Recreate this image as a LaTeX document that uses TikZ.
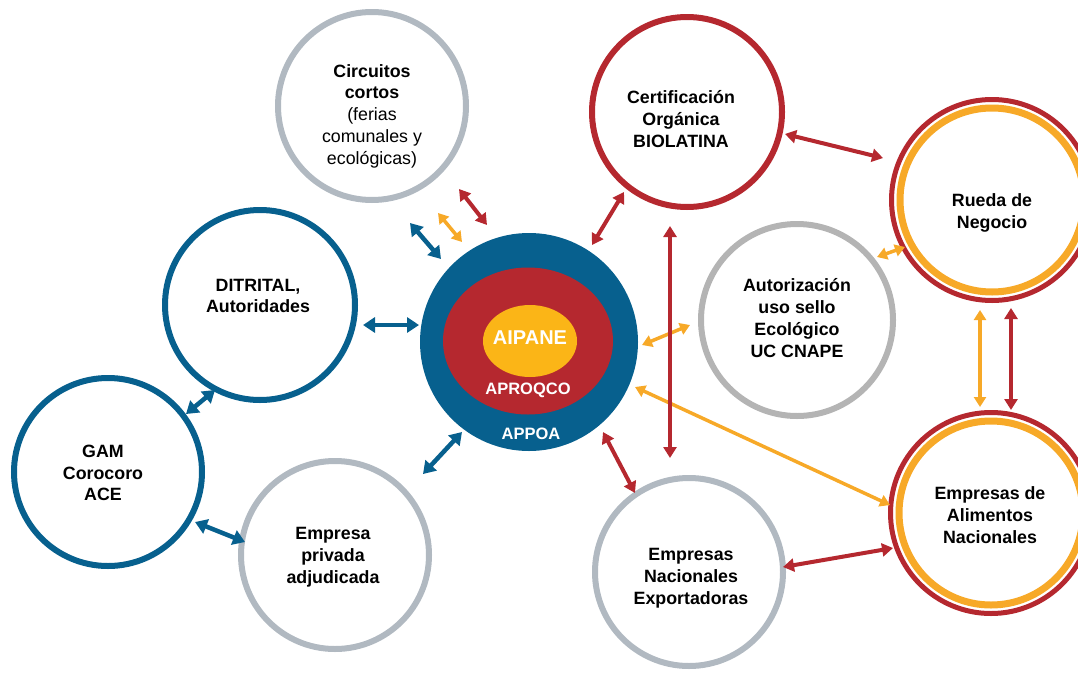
\documentclass[tikz,border=0pt]{standalone}
\usepackage{fontspec}
\setmainfont{Liberation Sans}
\usetikzlibrary{arrows.meta,calc,shapes.geometric}
\definecolor{cblue}{HTML}{07608E}
\definecolor{cred}{HTML}{B5282F}
\definecolor{corange}{HTML}{F7A928}
\definecolor{cyellow}{HTML}{FBB517}
\definecolor{cgray}{HTML}{B1B9C1}
\definecolor{cgraytwo}{HTML}{B4B4B4}
\begin{document}
\begin{tikzpicture}[x=1pt,y=-1pt,
  ring/.style={circle,draw,line width=6pt,inner sep=0pt,minimum size=#1},
  lbl/.style={align=center,font=\fontsize{17.8}{21.8}\selectfont\bfseries,text=black},
  inl/.style={text=white,font=\bfseries},
  barr/.style={draw=cblue,line width=4.5pt,{Triangle[length=12pt,width=15pt]}-{Triangle[length=12pt,width=15pt]}},
  rarr/.style={draw=cred,line width=4pt,{Triangle[length=11pt,width=13pt]}-{Triangle[length=11pt,width=13pt]}},
  oarr/.style={draw=corange,line width=3.5pt,{Triangle[length=10pt,width=12pt]}-{Triangle[length=10pt,width=12pt]}}]
\useasboundingbox (0,0) rectangle (1078,672);

% central target
\node[circle,fill=cblue,inner sep=0pt,minimum size=218pt] (center) at (529,342) {};
\node[ellipse,fill=cred,inner sep=0pt,minimum width=170pt,minimum height=147pt] (aproq) at (528,341) {};
\node[ellipse,fill=cyellow,inner sep=0pt,minimum width=94pt,minimum height=72pt] (aipane) at (530,341) {};
\node[inl,font=\fontsize{20}{24}\selectfont\bfseries] (t-aipane) at (530,338) {AIPANE};
\node[inl,font=\fontsize{16.5}{20}\selectfont\bfseries] (t-aproq) at (528,390) {APROQCO};
\node[inl,font=\fontsize{16.5}{20}\selectfont\bfseries] (t-appoa) at (531,434) {APPOA};

% circles
\node[ring=188pt,draw=cgray] (circ) at (372,106) {};
\node[ring=190pt,draw=cred] (cert) at (687,112) {};
\node[ring=201pt,draw=cred,line width=5pt] (rueda) at (992,200) {};
\draw[corange,line width=7pt] (rueda) circle[radius=92];
\node[ring=192pt,draw=cgraytwo] (auto) at (797,320) {};
\node[ring=201pt,draw=cred,line width=5pt] (alim) at (991,513) {};
\draw[corange,line width=7pt] (alim) circle[radius=92];
\node[ring=188pt,draw=cgray] (expo) at (689,572) {};
\node[ring=188pt,draw=cgray] (priv) at (335,555) {};
\node[ring=188pt,draw=cblue] (gam) at (108,472) {};
\node[ring=190pt,draw=cblue] (dit) at (260,305) {};

% labels
\node[lbl] (t-circ) at (372,116) {Circuitos\\cortos\\{\mdseries(ferias}\\{\mdseries comunales y}\\{\mdseries ecológicas)}};
\node[lbl] (t-cert) at (681,119) {Certificación\\Orgánica\\BIOLATINA};
\node[lbl] (t-rueda) at (992,213) {Rueda de\\Negocio};
\node[lbl] (t-auto) at (797,318) {Autorización\\uso sello\\Ecológico\\UC CNAPE};
\node[lbl] (t-alim) at (990,515) {Empresas de\\Alimentos\\Nacionales};
\node[lbl] (t-expo) at (691,578) {Empresas\\Nacionales\\Exportadoras};
\node[lbl] (t-priv) at (333,557) {Empresa\\privada\\adjudicada};
\node[lbl] (t-gam) at (103,473) {GAM\\Corocoro\\ACE};
\node[lbl] (t-dit) at (258,296) {DITRITAL,\\Autoridades};

% blue connectors
\draw[barr] ($(circ)+(38,117)$) -- ($(center)+(-88,-83)$);
\draw[barr] ($(dit)+(103,20)$) -- ($(center)+(-110,-17)$);
\draw[barr] ($(gam)+(78,-58)$) -- ($(dit)+(-45,85)$);
\draw[barr] ($(gam)+(87,50)$) -- ($(priv)+(-90,-13)$);
\draw[barr] ($(priv)+(88,-81)$) -- ($(center)+(-67,90)$);

% orange connectors
\draw[oarr] ($(circ)+(66,107)$) -- ($(center)+(-67,-100)$);
\draw[oarr] ($(center)+(113,3)$) -- ($(auto)+(-107,5)$);
\draw[oarr] ($(auto)+(80,-63)$) -- ($(rueda)+(-87,47)$);
\draw[oarr] ($(center)+(106,45)$) -- ($(alim)+(-101,-8)$);
\draw[oarr] ($(rueda)+(-12,110)$) -- ($(alim)+(-11,-106)$);

% red connectors
\draw[rarr] ($(circ)+(87,83)$) -- ($(center)+(-42,-117)$);
\draw[rarr] ($(cert)+(-63,80)$) -- ($(center)+(63,-97)$);
\draw[rarr] ($(cert)+(-17,114)$) -- ($(expo)+(-19,-114)$);
\draw[rarr] ($(cert)+(98,22)$) -- ($(rueda)+(-109,-42)$);
\draw[rarr] ($(rueda)+(19,108)$) -- ($(alim)+(20,-103)$);
\draw[rarr] ($(center)+(74,90)$) -- ($(expo)+(-54,-79)$);
\draw[rarr] ($(expo)+(94,-5)$) -- ($(alim)+(-98,35)$);
\end{tikzpicture}
\end{document}
